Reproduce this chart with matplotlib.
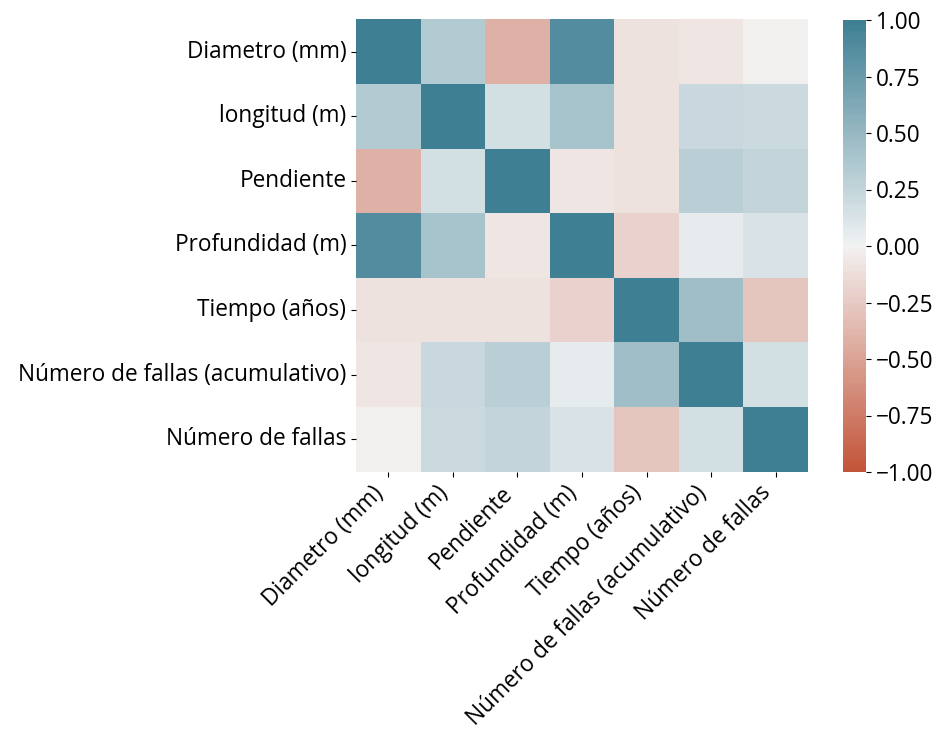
import numpy as np
import matplotlib
matplotlib.use("Agg")
import matplotlib.pyplot as plt
import seaborn as sns

labels = ["Diametro (mm)", "longitud (m)", "Pendiente", "Profundidad (m)",
          "Tiempo (años)", "Número de fallas (acumulativo)", "Número de fallas"]

# upper triangle of the correlation matrix, row by row
row_diametro = [0.35, -0.42, 0.88, -0.10, -0.08, -0.02]
row_longitud = [0.17, 0.40, -0.10, 0.22, 0.20]
row_pendiente = [-0.08, -0.10, 0.30, 0.25]
row_profundidad = [-0.20, 0.05, 0.13]
row_tiempo = [0.45, -0.28]
row_acumulativo = [0.17]

upper = [row_diametro, row_longitud, row_pendiente, row_profundidad,
         row_tiempo, row_acumulativo]

n = len(labels)
corr = np.eye(n)
for i, row in enumerate(upper):
    for k, v in enumerate(row):
        j = i + 1 + k
        corr[i, j] = v
        corr[j, i] = v

plt.rcParams['font.family'] = ['Open Sans', 'DejaVu Sans']
plt.rcParams['font.size'] = 16.3
fig = plt.figure(figsize=(9.47, 7.34), dpi=100)
ax = fig.add_axes([356/947, 1 - 472/734, 452/947, 453/734])
cax = fig.add_axes([843/947, 1 - 472/734, 23/947, 452/734])

sns.heatmap(corr, vmin=-1, vmax=1, center=0,
            cmap=sns.diverging_palette(20, 220, n=200),
            square=True, ax=ax, cbar_ax=cax,
            xticklabels=labels, yticklabels=labels)
ax.set_xticklabels(ax.get_xticklabels(), rotation=45, horizontalalignment='right')
ax.set_yticklabels(ax.get_yticklabels(), rotation=0)
ticks = [-1, -0.75, -0.5, -0.25, 0, 0.25, 0.5, 0.75, 1]
cax.set_yticks(ticks)
cax.set_yticklabels([f"{v:.2f}".replace("-", "\u2212") for v in ticks])

fig.savefig("out.png", dpi=100)
